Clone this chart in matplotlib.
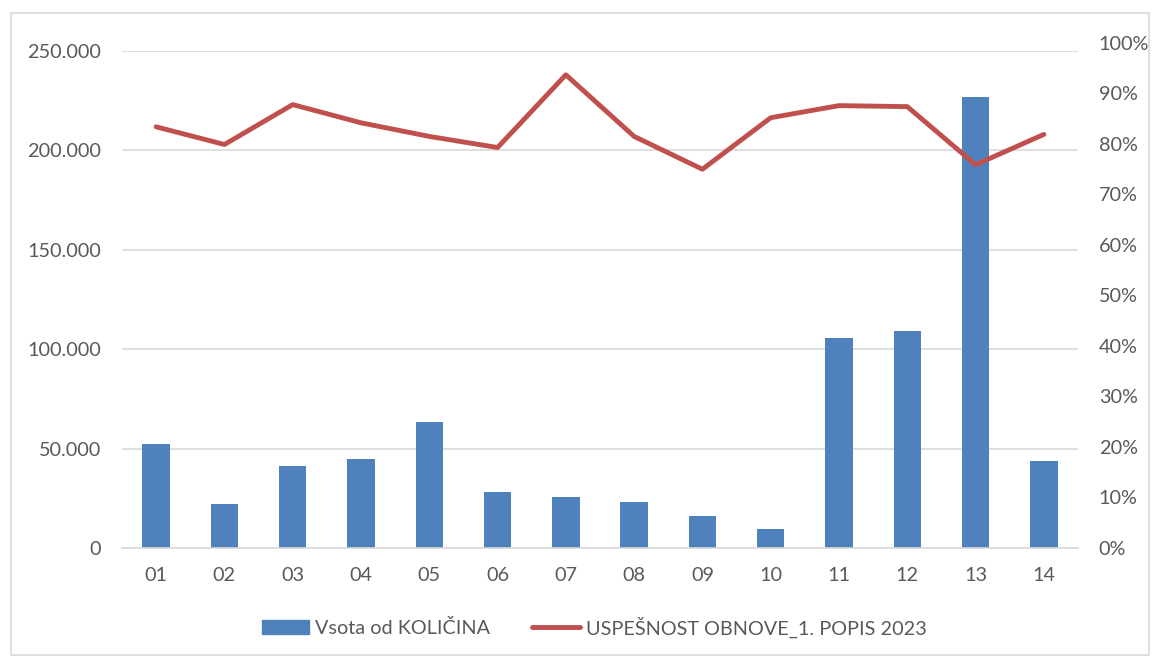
import numpy as np
import matplotlib
matplotlib.use("Agg")
import matplotlib.pyplot as plt
from matplotlib.ticker import FuncFormatter
from matplotlib.patches import Rectangle
from matplotlib.lines import Line2D

# ==== Data ====
categories = ["01", "02", "03", "04", "05", "06", "07", "08", "09", "10", "11", "12", "13", "14"]
kolicina = [52300, 22100, 41200, 44800, 63400, 28200, 25700, 23100, 16100, 9600,
            105600, 109200, 226900, 43800]
uspesnost = [0.834, 0.799, 0.878, 0.842, 0.815, 0.793, 0.937, 0.815, 0.750, 0.852,
             0.876, 0.874, 0.759, 0.819]
left_ticks = [0, 50000, 100000, 150000, 200000, 250000]
right_ticks = [i / 10 for i in range(11)]

bar_color = "#4F81BD"
line_color = "#C0504D"
text_color = "#595959"
grid_color = "#D9D9D9"

plt.rcParams["font.family"] = ["Lato", "DejaVu Sans"]
fs = 14.3

W, H = 1154, 658
fig = plt.figure(figsize=(W / 100, H / 100), dpi=100)

# chart border
fig.patches.append(Rectangle((11 / W, 3 / H), 1138 / W, 1 - 16 / H, transform=fig.transFigure,
                             fill=False, edgecolor="#D9D9D9", linewidth=1.2))

# plot area in pixels
x0, x1 = 122, 1078
ytop, ybot = 51, 548
ax = fig.add_axes([x0 / W, 1 - ybot / H, (x1 - x0) / W, (ybot - ytop) / H])

x = np.arange(len(categories))
ax.bar(x, kolicina, width=0.4, color=bar_color, zorder=2)
ax.set_xlim(-0.5, len(categories) - 0.5)
ax.set_ylim(0, 250000)
ax.set_yticks(left_ticks)
ax.yaxis.set_major_formatter(FuncFormatter(lambda v, p: f"{int(v):,}".replace(",", ".")))
ax.set_xticks(x)
ax.set_xticklabels(categories)
ax.grid(axis="y", color=grid_color, linewidth=1.2, zorder=0)
ax.set_axisbelow(True)
for s in ["top", "right", "left"]:
    ax.spines[s].set_visible(False)
ax.spines["bottom"].set_color(grid_color)
ax.spines["bottom"].set_linewidth(1.2)
ax.tick_params(axis="both", length=0, labelsize=fs, colors=text_color)
ax.tick_params(axis="y", pad=15)
ax.tick_params(axis="x", pad=14)

# secondary axis (labels in reference sit slightly higher than left scale)
rtop = 43
ax2 = fig.add_axes([x0 / W, 1 - ybot / H, (x1 - x0) / W, (ybot - rtop) / H], frameon=False)
ax2.plot(x, uspesnost, color=line_color, linewidth=3.5, solid_capstyle="round",
         solid_joinstyle="round", zorder=3)
ax2.set_xlim(ax.get_xlim())
ax2.set_ylim(0, 1)
ax2.set_yticks(right_ticks)
ax2.yaxis.set_major_formatter(FuncFormatter(lambda v, p: f"{v * 100:.0f}%"))
ax2.yaxis.tick_right()
ax2.set_xticks([])
ax2.tick_params(axis="y", length=0, labelsize=fs, colors=text_color, pad=15)

# legend
handles = [Rectangle((0, 0), 1, 1, color=bar_color),
           Line2D([0], [0], color=line_color, linewidth=3.5, solid_capstyle="round")]
fig.legend(handles, ["Vsota od KOLIČINA", "USPEŠNOST OBNOVE_1. POPIS 2023"],
           loc="center", bbox_to_anchor=(594 / W, 1 - 627 / H), ncol=2, frameon=False,
           fontsize=fs, labelcolor=text_color, handlelength=2.4, handletextpad=0.3,
           columnspacing=2.1)

fig.savefig("out.png", dpi=100)
